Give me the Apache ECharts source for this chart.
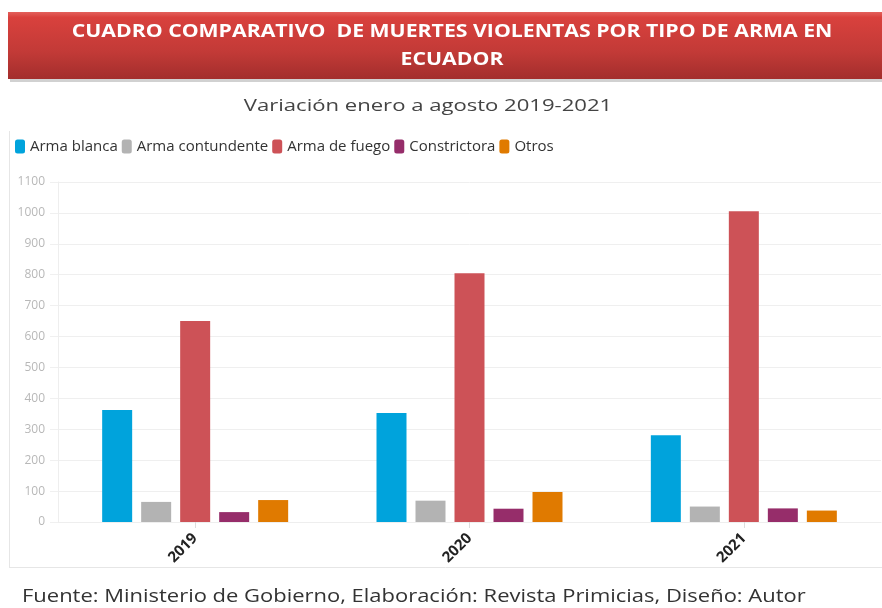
<!DOCTYPE html>
<html>
<head>
<meta charset="utf-8">
<script src="https://cdn.jsdelivr.net/npm/echarts@6/dist/echarts.min.js"></script>
<style>html,body{margin:0;padding:0;background:#fff;}#c{width:882px;height:608px;}</style>
</head>
<body>
<div id="c"></div>
<script>
const categories = ['2019', '2020', '2021'];
const seriesNames = ['Arma blanca', 'Arma contundente', 'Arma de fuego', 'Constrictora', 'Otros'];
const armaBlanca = [362, 353, 281];
const armaContundente = [65, 69, 50];
const armaDeFuego = [650, 805, 1005];
const constrictora = [32, 43, 44];
const otros = [71, 97, 37];
const yTicks = { min: 0, max: 1100, interval: 100 };
const colors = ['#00a3dc', '#b3b3b3', '#cd5257', '#962d6a', '#e07a00'];
const titleLines = ['CUADRO COMPARATIVO  DE MUERTES VIOLENTAS POR TIPO DE ARMA EN', 'ECUADOR'];
const subtitle = 'Variación enero a agosto 2019-2021';
const footer = 'Fuente: Ministerio de Gobierno, Elaboración: Revista Primicias, Diseño: Autor';

const values = [armaBlanca, armaContundente, armaDeFuego, constrictora, otros];
const chart = echarts.init(document.getElementById('c'), null, { renderer: 'canvas' });
chart.setOption({
  animation: false,
  color: colors,
  graphic: [
    { type: 'rect', shape: { x: 10, y: 15, width: 880, height: 67 }, style: { fill: 'rgba(0,0,0,0.18)' }, z: 0 },
    { type: 'rect', shape: { x: 8, y: 12, width: 880, height: 67 },
      style: { fill: new echarts.graphic.LinearGradient(0, 0, 0, 1, [
        { offset: 0, color: '#e3605b' }, { offset: 0.08, color: '#d9413d' },
        { offset: 0.6, color: '#c23a37' }, { offset: 1, color: '#a32e2c' }]) }, z: 1 },
    { type: 'text', x: 452, y: 32, scaleX: 1.25, z: 2, style: { text: titleLines[0], fill: '#fff', font: 'bold 17px "Open Sans"', align: 'center', verticalAlign: 'middle' } },
    { type: 'text', x: 452, y: 60, scaleX: 1.25, z: 2, style: { text: titleLines[1], fill: '#fff', font: 'bold 17px "Open Sans"', align: 'center', verticalAlign: 'middle' } },
    { type: 'text', x: 428, y: 106, scaleX: 1.38, z: 2, style: { text: subtitle, fill: '#444', font: '16px "Open Sans"', align: 'center', verticalAlign: 'middle' } },
    { type: 'line', shape: { x1: 9.5, y1: 131, x2: 9.5, y2: 567 }, style: { stroke: '#e6e6e6', lineWidth: 1 } },
    { type: 'line', shape: { x1: 9, y1: 567.5, x2: 882, y2: 567.5 }, style: { stroke: '#e6e6e6', lineWidth: 1 } },
    { type: 'text', x: 22, y: 597, scaleX: 1.22, z: 2, style: { text: footer, fill: '#333', font: '18px "Open Sans"', align: 'left', verticalAlign: 'middle' } }
  ],
  legend: {
    left: 15, top: 139, padding: 0, itemWidth: 10, itemHeight: 14, itemGap: 4,
    icon: 'roundRect',
    textStyle: { fontFamily: 'Open Sans', fontSize: 15, color: '#333' },
    data: seriesNames
  },
  grid: { left: 58, right: 1, top: 182, bottom: 86, containLabel: false },
  xAxis: {
    type: 'category', data: categories,
    axisLine: { show: true, lineStyle: { color: '#eeeeee' } },
    axisTick: { show: true, alignWithLabel: true, length: 6, lineStyle: { color: '#dddddd' } },
    axisLabel: { rotate: 45, margin: 14, fontFamily: 'Open Sans', fontWeight: 'bold', fontSize: 15, color: '#222' }
  },
  yAxis: {
    type: 'value', min: yTicks.min, max: yTicks.max, interval: yTicks.interval,
    axisLine: { show: true, lineStyle: { color: '#eeeeee' } },
    axisTick: { show: true, length: 8, lineStyle: { color: '#f0f0f0' } },
    splitLine: { lineStyle: { color: '#efefef' } },
    axisLabel: { margin: 13, fontFamily: 'Open Sans', fontSize: 12, color: '#b8b8b8', formatter: v => String(v) }
  },
  series: seriesNames.map((n, i) => ({
    name: n, type: 'bar', data: values[i], barWidth: 30, barGap: '30%', barCategoryGap: '32%'
  }))
});
</script>
</body>
</html>
